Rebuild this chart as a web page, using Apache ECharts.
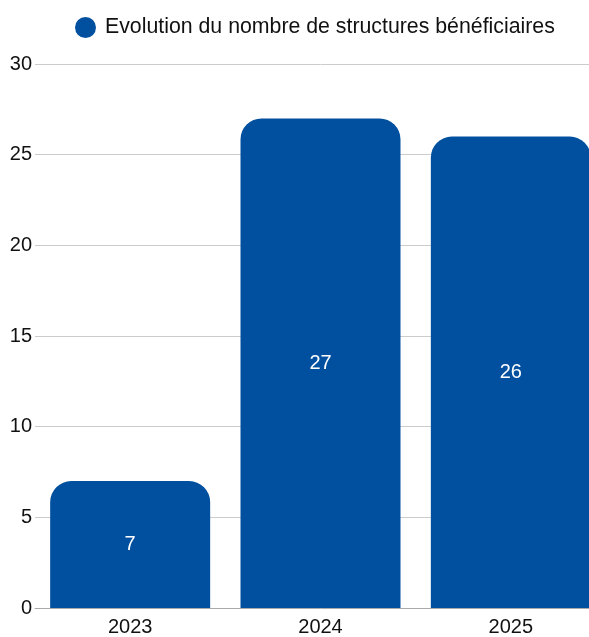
<!DOCTYPE html>
<html><head><meta charset="utf-8">
<script src="https://cdn.jsdelivr.net/npm/echarts@6/dist/echarts.min.js"></script>
<style>html,body{margin:0;padding:0;background:#fff;overflow:hidden;width:589px;height:637px}#c{width:606px;height:637px}</style>
</head><body><div id="c"></div>
<script>
const categories = ['2023', '2024', '2025'];
const seriesName = 'Evolution du nombre de structures bénéficiaires';
const values = [7, 27, 26];
const yTicks = [0, 5, 10, 15, 20, 25, 30];

const chart = echarts.init(document.getElementById('c'), null, {renderer: 'canvas'});
const font = '"Liberation Sans", Arial, Helvetica, sans-serif';
chart.setOption({
  animation: false,
  textStyle: {fontFamily: font},
  legend: {
    left: 70, top: 12,
    icon: 'circle', itemWidth: 21, itemHeight: 21, itemGap: 8,
    textStyle: {fontSize: 21.3, color: '#111', fontFamily: font, padding: [0, 0, 0, 4]},
    data: [seriesName]
  },
  grid: {left: 35, right: 0, top: 64, bottom: 27, containLabel: false},
  xAxis: {
    type: 'category', data: categories,
    axisLine: {lineStyle: {color: '#aaa'}},
    axisTick: {show: false},
    axisLabel: {fontSize: 20, color: '#111', margin: 9, fontFamily: font}
  },
  yAxis: {
    type: 'value', min: yTicks[0], max: yTicks[yTicks.length - 1], interval: 5,
    axisLine: {show: false}, axisTick: {show: false},
    axisLabel: {fontSize: 20, color: '#111', margin: 3, fontFamily: font},
    splitLine: {lineStyle: {color: '#ccc'}}
  },
  series: [{
    name: seriesName, type: 'bar', data: values,
    barWidth: 160,
    itemStyle: {color: '#00509F', borderRadius: [21, 21, 0, 0]},
    label: {show: true, position: 'inside', color: '#fff', fontSize: 20, fontFamily: font}
  }]
});
</script></body></html>
